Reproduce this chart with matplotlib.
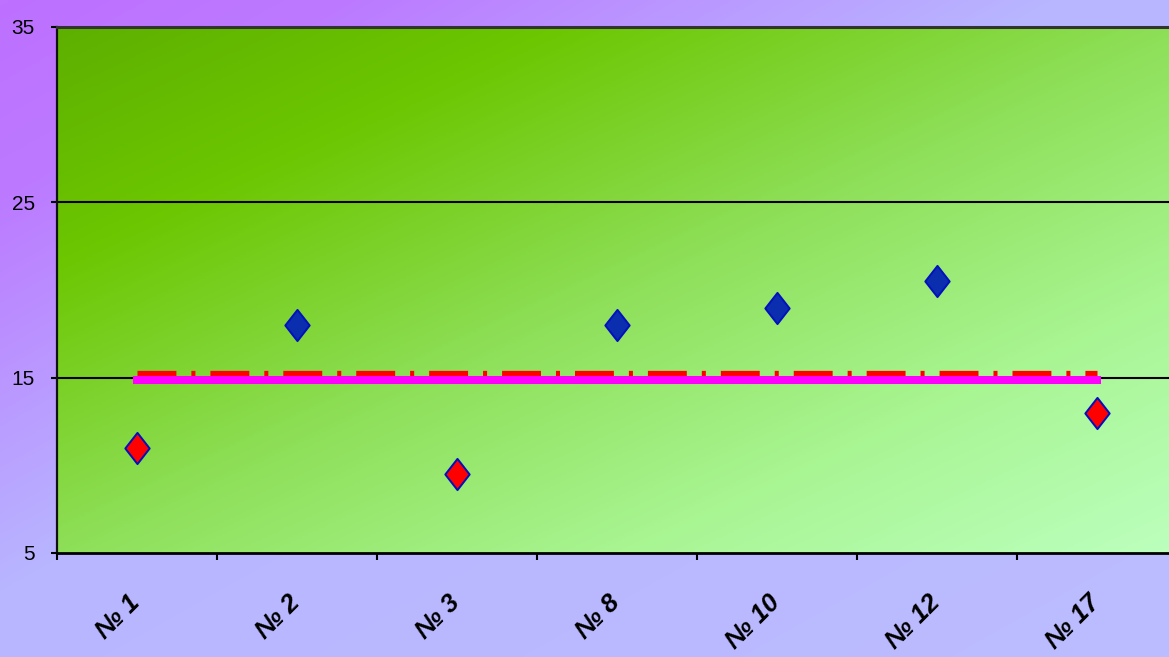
import numpy as np
import matplotlib
matplotlib.use("Agg")
import matplotlib.pyplot as plt
from matplotlib.path import Path
from matplotlib.colors import LinearSegmentedColormap
import matplotlib.transforms as mtransforms

# ---- data ----
categories = ['№ 1', '№ 2', '№ 3', '№ 8', '№ 10', '№ 12', '№ 17']
values = [11, 18, 9.5, 18, 19, 20.5, 13]
threshold = 15
y_ticks = [5, 15, 25, 35]

W, H, DPI = 1169, 657, 100
plt.rcParams['font.family'] = ['Liberation Sans', 'DejaVu Sans']
plt.rcParams['lines.scale_dashes'] = False

fig = plt.figure(figsize=(W / DPI, H / DPI), dpi=DPI)
fig.patch.set_alpha(0)

# figure background gradient (purple top-left -> lavender)
bg_cmap = LinearSegmentedColormap.from_list(
    'bg', [(0.0, '#BE70FF'), (0.15, '#BC7AFF'), (0.45, '#B8B6FF'), (1.0, '#BCBCFF')])
yy, xx = np.mgrid[0:H, 0:W]
t = (xx / W + yy / H) / 2
fig.figimage((bg_cmap(t) * 255).astype(np.uint8), xo=0, yo=0, origin='upper', zorder=-10)

left, right, top, bottom = 57, 1177, 27, 553
ax = fig.add_axes([left / W, (H - bottom) / H, (right - left) / W, (bottom - top) / H])
ax.patch.set_visible(False)

n = len(categories)
ax.set_xlim(0, n)
ax.set_ylim(5, 35)

# plot area gradient
pa_cmap = LinearSegmentedColormap.from_list(
    'pa', [(0.0, '#5EB000'), (0.22, '#6CC600'), (0.5, '#8EDF58'), (0.75, '#A8F592'), (1.0, '#BCFFBE')])
gy, gx = np.mgrid[0:200, 0:400]
gt = (gx / 399 + gy / 199) / 2
ax.imshow(pa_cmap(gt), extent=(0, n, 5, 35), aspect='auto', origin='upper', zorder=-5,
          interpolation='bilinear')

# gridlines
for yv in y_ticks[1:3]:
    ax.axhline(yv, color='black', lw=1.5, zorder=1)

# threshold lines
xs = np.arange(n) + 0.5
red_tr = mtransforms.offset_copy(ax.transData, fig=fig, x=0, y=3.4, units='points')
mag_tr = mtransforms.offset_copy(ax.transData, fig=fig, x=0, y=-1.6, units='points')
ax.plot([xs[0], xs[-1]], [threshold, threshold], color='#FF0000', lw=3.8,
        dashes=(28, 10.8, 2.9, 10.8), dash_capstyle='butt', transform=red_tr, zorder=3)
ax.plot([xs[0], xs[-1]], [threshold, threshold], color='#FF00FF', lw=5.8,
        solid_capstyle='projecting', transform=mag_tr, zorder=4)

# diamonds
diamond = Path([(0, 1), (0.78, 0), (0, -1), (-0.78, 0), (0, 1)],
               [Path.MOVETO, Path.LINETO, Path.LINETO, Path.LINETO, Path.CLOSEPOLY])
for x, v in zip(xs, values):
    fc = '#FF0000' if v < threshold else '#0A2EAE'
    ax.plot([x], [v], marker=diamond, markersize=22.5, markerfacecolor=fc,
            markeredgecolor='#0010C0', markeredgewidth=1.4, linestyle='none', zorder=5)

# spines
ax.spines['right'].set_visible(False)
ax.spines['top'].set_color('#333333')
ax.spines['top'].set_linewidth(2.2)
ax.spines['left'].set_color('#111111')
ax.spines['left'].set_linewidth(1.6)
ax.spines['bottom'].set_color('#000000')
ax.spines['bottom'].set_linewidth(2.0)

# ticks
ax.set_yticks(y_ticks)
ax.set_yticklabels([str(v) for v in y_ticks], fontsize=15)
ax.tick_params(axis='y', length=4, width=1.5, pad=12, color='black')
ax.set_xticks(np.arange(n + 1))
ax.set_xticklabels([])
ax.tick_params(axis='x', which='major', length=5, width=1.5, color='black')
ax.set_xticks(xs + 0.05, minor=True)
ax.set_xticklabels(categories, minor=True, rotation=45, ha='right', va='top',
                   fontsize=18.5, fontweight='bold', fontstyle='italic')
ax.tick_params(axis='x', which='minor', length=0, pad=27)

fig.savefig('out.png', dpi=DPI)
